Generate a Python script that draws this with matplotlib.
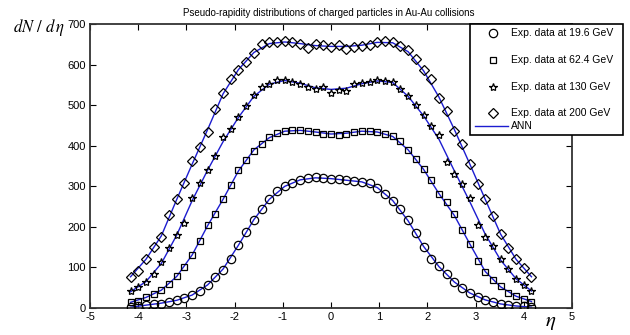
import matplotlib.pyplot as plt
from matplotlib.lines import Line2D
from matplotlib.patches import Rectangle

plt.rcParams['font.family'] = ['Liberation Sans', 'DejaVu Sans']
plt.rcParams['mathtext.fontset'] = 'stix'
plt.rcParams['axes.unicode_minus'] = False

# pseudo-rapidity points of the experimental data
eta = [-4.16, -4.00, -3.84, -3.68, -3.52, -3.36, -3.20, -3.04, -2.88, -2.72,
       -2.56, -2.40, -2.24, -2.08, -1.92, -1.76, -1.60, -1.44, -1.28, -1.12,
       -0.96, -0.80, -0.64, -0.48, -0.32, -0.16, 0.00, 0.16, 0.32, 0.48,
       0.64, 0.80, 0.96, 1.12, 1.28, 1.44, 1.60, 1.76, 1.92, 2.08,
       2.24, 2.40, 2.56, 2.72, 2.88, 3.04, 3.20, 3.36, 3.52, 3.68,
       3.84, 4.00, 4.16]

exp_196 = [2, 5, 7, 9, 11, 15, 19, 24, 32, 42,
           57, 77, 94, 122, 155, 188, 218, 243, 268, 288,
           300, 309, 315, 320, 322, 321, 319, 317, 315, 312,
           310, 308, 295, 281, 265, 244, 217, 185, 150, 122,
           104, 84, 64, 50, 37, 27, 20, 15, 9, 7,
           5, 4, 2]
exp_624 = [15, 17, 27, 34, 44, 58, 79, 102, 131, 166,
           205, 233, 268, 303, 340, 366, 388, 404, 421, 431,
           437, 438, 438, 436, 434, 430, 428, 427, 430, 434,
           436, 436, 434, 429, 425, 413, 390, 367, 343, 316,
           280, 262, 233, 193, 158, 117, 89, 68, 54, 38,
           29, 22, 16]
exp_130 = [41, 53, 65, 84, 114, 148, 180, 210, 272, 308,
           340, 375, 422, 442, 470, 498, 525, 544, 553, 562,
           563, 558, 552, 545, 541, 545, 530, 538, 535, 553,
           556, 557, 562, 560, 558, 540, 522, 500, 476, 450,
           426, 360, 331, 306, 272, 204, 176, 152, 120, 95,
           71, 56, 42]
exp_200 = [77, 92, 122, 150, 176, 230, 270, 308, 362, 398,
           435, 490, 530, 565, 588, 606, 630, 650, 655, 656,
           658, 655, 651, 640, 650, 648, 643, 648, 638, 643,
           646, 648, 655, 659, 656, 647, 635, 613, 586, 565,
           518, 485, 436, 404, 355, 305, 270, 228, 182, 148,
           120, 99, 77]

# ANN fit
eta_ann = [-4.16, -3.84, -3.52, -3.20, -2.88, -2.56, -2.24, -1.92, -1.60,
           -1.28, -0.96, -0.64, -0.32, 0.00, 0.32, 0.64, 0.96, 1.28,
           1.60, 1.92, 2.24, 2.56, 2.88, 3.20, 3.52, 3.84, 4.16]
ann_196 = [2, 7, 12, 19, 32, 57, 96, 155, 218, 268, 300, 316, 321, 319,
           315, 311, 297, 265, 215, 152, 102, 64, 37, 20, 10, 5, 2]
ann_624 = [14, 26, 44, 78, 131, 203, 268, 338, 390, 420, 436, 438, 434, 429,
           431, 436, 434, 423, 390, 342, 282, 228, 158, 90, 52, 29, 16]
ann_130 = [40, 65, 110, 180, 265, 340, 410, 470, 522, 552, 561, 554, 543, 539,
           542, 553, 560, 556, 522, 474, 416, 338, 262, 182, 118, 72, 42]
ann_200 = [77, 120, 178, 268, 355, 440, 528, 588, 630, 652, 656, 652, 647, 645,
           645, 648, 655, 654, 632, 585, 520, 440, 355, 268, 182, 120, 77]

labels = ['Exp. data at 19.6 GeV', 'Exp. data at 62.4 GeV',
          'Exp. data at 130 GeV', 'Exp. data at 200 GeV']
markers = ['o', 's', '*', 'D']
sizes = [6, 4.6, 6, 4.6]
line_color = '#1c1cd0'

fig = plt.figure(figsize=(6.3, 3.35), dpi=100)
ax = fig.add_axes([0.1429, 0.0806, 0.765, 0.8474])

for ann in [ann_196, ann_624, ann_130, ann_200]:
    ax.plot(eta_ann, ann, color=line_color, lw=1.0, zorder=2)
for vals, m, s in zip([exp_196, exp_624, exp_130, exp_200], markers, sizes):
    ax.plot(eta, vals, ls='none', marker=m, ms=s, mfc='none', mec='black',
            mew=0.9, zorder=3)

ax.set_xlim(-5, 5)
ax.set_ylim(0, 700)
ax.set_xticks(range(-5, 6))
ax.set_yticks(range(0, 701, 100))
ax.tick_params(direction='in', top=True, right=True, length=4, width=0.8,
               labelsize=8, pad=3)
for sp in ax.spines.values():
    sp.set_linewidth(1.3)
    sp.set_color('#333333')

fig.text(329 / 630, 1 - 13 / 335,
         'Pseudo-rapidity distributions of charged particles in Au-Au collisions',
         ha='center', va='center', fontsize=7)
fig.text(39 / 630, 1 - 27 / 335, r'$dN\ /\ d\,\eta$', ha='center',
         va='center', fontsize=12)
fig.text(551 / 630, 1 - 323 / 335, r'$\eta$', ha='center', va='center',
         fontsize=15)

# legend box, drawn by hand (the ANN row sits close under the last one)
fig.add_artist(Rectangle((470 / 630, 1 - 135 / 335), 153 / 630, 111 / 335,
                         transform=fig.transFigure, facecolor='white',
                         edgecolor='black', lw=1.2, zorder=5))
rows_y = [33, 60, 87, 113]
for lab, m, s, ry in zip(labels, markers, sizes, rows_y):
    fy = 1 - ry / 335
    fig.add_artist(Line2D([492.7 / 630], [fy], transform=fig.transFigure,
                          ls='none', marker=m, ms=s, mfc='none', mec='black',
                          mew=0.9, zorder=6))
    fig.text(511 / 630, fy, lab, ha='left', va='center', fontsize=7.5,
             zorder=6)
fy = 1 - 126 / 335
fig.add_artist(Line2D([475 / 630, 508 / 630], [fy, fy],
                      transform=fig.transFigure, color=line_color, lw=1.0,
                      zorder=6))
fig.text(511 / 630, fy, 'ANN', ha='left', va='center', fontsize=7.5, zorder=6)

fig.savefig('out.png', dpi=100)
